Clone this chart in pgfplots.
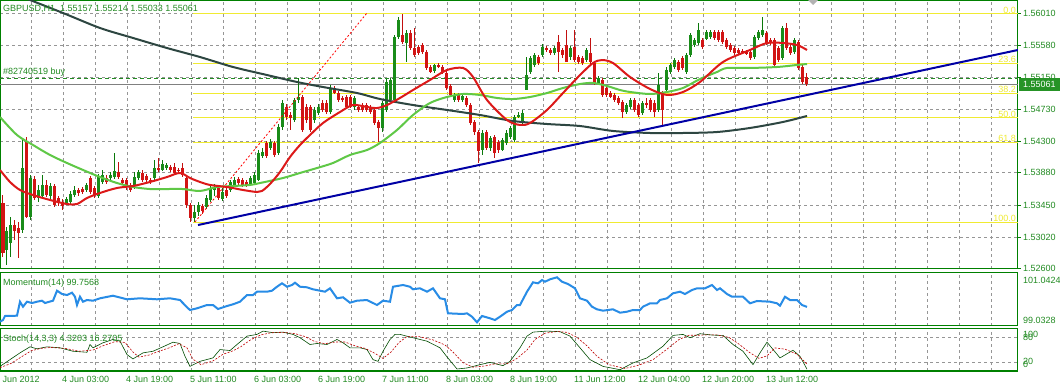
\documentclass[border=0pt]{standalone}
\usepackage{fontspec}
\setmainfont{Liberation Sans}
\usepackage{pgfplots}
\usepackage{pgfplotstable}
\pgfplotsset{compat=1.18}
\definecolor{mtgreen}{RGB}{0,128,0}
\definecolor{mttext}{RGB}{34,139,34}
\definecolor{bullbody}{RGB}{25,140,25}
\definecolor{bullwick}{RGB}{10,120,10}
\definecolor{bearbody}{RGB}{210,20,20}
\definecolor{bearwick}{RGB}{195,15,15}
\definecolor{redma}{RGB}{220,25,25}
\definecolor{greenma}{RGB}{95,200,70}
\definecolor{darkma}{RGB}{45,70,65}
\definecolor{trendblue}{RGB}{0,0,165}
\definecolor{fibyellow}{RGB}{240,235,50}
\definecolor{momblue}{RGB}{40,140,230}
\definecolor{gridgray}{RGB}{150,150,150}
\newcommand\fs{\fontsize{9}{10}\selectfont}

\pgfplotstableread{
i o h l c
0 1.53477 1.53583 1.52757 1.52810
1 1.52850 1.53157 1.52650 1.53103
2 1.52943 1.53290 1.52757 1.53183
3 1.53183 1.53250 1.52983 1.53103
4 1.53143 1.53223 1.52743 1.53077
5 1.53117 1.54330 1.53077 1.53943
6 1.54303 1.54357 1.53277 1.53290
7 1.53290 1.53850 1.53250 1.53810
8 1.53797 1.53837 1.53517 1.53543
9 1.53543 1.53717 1.53490 1.53650
10 1.53570 1.53850 1.53543 1.53717
11 1.53717 1.53783 1.53557 1.53583
12 1.53570 1.53743 1.53517 1.53703
13 1.53703 1.53730 1.53423 1.53450
14 1.53543 1.53570 1.53437 1.53477
15 1.53490 1.53530 1.53383 1.53437
16 1.53477 1.53557 1.53450 1.53530
17 1.53490 1.53637 1.53463 1.53597
18 1.53583 1.53703 1.53557 1.53650
19 1.53650 1.53677 1.53570 1.53610
20 1.53663 1.53690 1.53597 1.53623
21 1.53650 1.53743 1.53623 1.53717
22 1.53810 1.53837 1.53597 1.53623
23 1.53677 1.53703 1.53543 1.53583
24 1.53570 1.53863 1.53543 1.53837
25 1.53757 1.53917 1.53730 1.53850
26 1.53810 1.53850 1.53730 1.53757
27 1.53810 1.53890 1.53783 1.53850
28 1.53823 1.54143 1.53797 1.53903
29 1.53890 1.54023 1.53797 1.53823
30 1.53783 1.53810 1.53717 1.53743
31 1.53783 1.53810 1.53650 1.53703
32 1.53717 1.53743 1.53623 1.53650
33 1.53703 1.53890 1.53663 1.53823
34 1.53810 1.53917 1.53783 1.53890
35 1.53877 1.53917 1.53757 1.53783
36 1.53837 1.53863 1.53757 1.53783
37 1.53783 1.53810 1.53730 1.53757
38 1.53810 1.54050 1.53770 1.53943
39 1.53943 1.54077 1.53890 1.53917
40 1.53917 1.54050 1.53903 1.53997
41 1.53943 1.54010 1.53917 1.53983
42 1.53957 1.53983 1.53890 1.53917
43 1.53957 1.54010 1.53850 1.53877
44 1.53917 1.53943 1.53877 1.53903
45 1.53943 1.54010 1.53823 1.53850
46 1.53810 1.53850 1.53410 1.53450
47 1.53450 1.53477 1.53223 1.53277
48 1.53277 1.53450 1.53223 1.53357
49 1.53357 1.53490 1.53303 1.53450
50 1.53437 1.53463 1.53330 1.53370
51 1.53423 1.53583 1.53397 1.53543
52 1.53517 1.53717 1.53490 1.53677
53 1.53650 1.53730 1.53570 1.53690
54 1.53677 1.53703 1.53517 1.53543
55 1.53530 1.53677 1.53503 1.53623
56 1.53650 1.53677 1.53543 1.53570
57 1.53650 1.53783 1.53623 1.53757
58 1.53717 1.53823 1.53690 1.53783
59 1.53797 1.53823 1.53717 1.53743
60 1.53783 1.53810 1.53690 1.53717
61 1.53757 1.53783 1.53690 1.53717
62 1.53730 1.53837 1.53703 1.53810
63 1.53743 1.53890 1.53717 1.53850
64 1.53783 1.54183 1.53770 1.54143
65 1.54103 1.54210 1.54077 1.54157
66 1.54277 1.54303 1.54077 1.54103
67 1.54210 1.54330 1.54183 1.54290
68 1.54277 1.54303 1.54090 1.54117
69 1.54143 1.54530 1.54117 1.54490
70 1.54490 1.54850 1.54450 1.54810
71 1.54757 1.54797 1.54583 1.54623
72 1.54650 1.54690 1.54450 1.54610
73 1.54583 1.54877 1.54557 1.54850
74 1.54850 1.55143 1.54810 1.54890
75 1.54890 1.54917 1.54423 1.54450
76 1.54757 1.54797 1.54543 1.54583
77 1.54757 1.54783 1.54423 1.54450
78 1.54583 1.54757 1.54543 1.54717
79 1.54677 1.54797 1.54650 1.54757
80 1.54810 1.54850 1.54690 1.54717
81 1.54810 1.54850 1.54663 1.54690
82 1.54690 1.55050 1.54663 1.55010
83 1.55010 1.55037 1.54930 1.54943
84 1.54943 1.54970 1.54823 1.54850
85 1.54877 1.54903 1.54823 1.54850
86 1.54890 1.54917 1.54730 1.54757
87 1.54890 1.54917 1.54743 1.54757
88 1.54757 1.54903 1.54717 1.54877
89 1.54757 1.54783 1.54690 1.54717
90 1.54783 1.54810 1.54690 1.54717
91 1.54783 1.54810 1.54690 1.54717
92 1.54757 1.54783 1.54663 1.54690
93 1.54717 1.54743 1.54517 1.54543
94 1.54557 1.54583 1.54290 1.54477
95 1.54477 1.54837 1.54423 1.54810
96 1.54717 1.55130 1.54690 1.55090
97 1.54850 1.55143 1.54823 1.55117
98 1.54850 1.55717 1.54823 1.55690
99 1.55690 1.55957 1.55663 1.55917
100 1.55717 1.55997 1.55597 1.55623
101 1.55610 1.55783 1.55357 1.55743
102 1.55743 1.55783 1.55517 1.55543
103 1.55543 1.55810 1.55423 1.55450
104 1.55557 1.55583 1.55450 1.55477
105 1.55583 1.55610 1.55463 1.55490
106 1.55490 1.55517 1.55250 1.55277
107 1.55290 1.55317 1.55210 1.55223
108 1.55237 1.55330 1.55210 1.55317
109 1.55317 1.55343 1.55277 1.55290
110 1.55290 1.55317 1.55197 1.55223
111 1.55210 1.55237 1.54983 1.55010
112 1.55037 1.55063 1.54890 1.54917
113 1.54850 1.54943 1.54823 1.54917
114 1.54917 1.54943 1.54823 1.54850
115 1.54850 1.54930 1.54823 1.54903
116 1.54877 1.54903 1.54757 1.54783
117 1.54783 1.54810 1.54517 1.54543
118 1.54557 1.54583 1.54383 1.54423
119 1.54423 1.54450 1.54010 1.54170
120 1.54183 1.54450 1.54117 1.54410
121 1.54423 1.54450 1.54183 1.54210
122 1.54210 1.54370 1.54170 1.54343
123 1.54357 1.54383 1.54077 1.54143
124 1.54290 1.54317 1.54143 1.54183
125 1.54183 1.54343 1.54170 1.54317
126 1.54277 1.54450 1.54250 1.54410
127 1.54357 1.54503 1.54330 1.54477
128 1.54317 1.54650 1.54290 1.54623
129 1.54637 1.54690 1.54610 1.54650
130 1.54557 1.54717 1.54530 1.54677
131 1.54983 1.55423 1.54983 1.55183
132 1.55223 1.55437 1.55197 1.55410
133 1.55317 1.55477 1.55290 1.55450
134 1.55423 1.55450 1.55317 1.55343
135 1.55450 1.55597 1.55423 1.55557
136 1.55543 1.55570 1.55490 1.55517
137 1.55517 1.55543 1.55450 1.55477
138 1.55477 1.55570 1.55450 1.55543
139 1.55623 1.55717 1.55223 1.55490
140 1.55517 1.55543 1.55410 1.55450
141 1.55583 1.55783 1.55357 1.55357
142 1.55423 1.55570 1.55383 1.55543
143 1.55557 1.55783 1.55357 1.55383
144 1.55423 1.55450 1.55330 1.55357
145 1.55410 1.55437 1.55317 1.55343
146 1.55383 1.55543 1.55357 1.55517
147 1.55477 1.55677 1.55330 1.55357
148 1.55343 1.55370 1.55050 1.55077
149 1.55077 1.55170 1.55050 1.55143
150 1.55117 1.55143 1.54890 1.54917
151 1.55010 1.55037 1.54890 1.54917
152 1.54943 1.54970 1.54877 1.54890
153 1.54917 1.54943 1.54823 1.54850
154 1.54877 1.54903 1.54783 1.54810
155 1.54823 1.54850 1.54610 1.54690
156 1.54690 1.54810 1.54663 1.54783
157 1.54757 1.54877 1.54730 1.54850
158 1.54850 1.54877 1.54690 1.54717
159 1.54783 1.54810 1.54623 1.54650
160 1.54677 1.54837 1.54650 1.54810
161 1.54810 1.54877 1.54743 1.54783
162 1.54850 1.54877 1.54690 1.54717
163 1.54810 1.54850 1.54623 1.54690
164 1.54717 1.55210 1.54690 1.55050
165 1.54943 1.54970 1.54517 1.54717
166 1.54983 1.55290 1.54957 1.55250
167 1.55223 1.55343 1.55197 1.55317
168 1.55290 1.55410 1.55263 1.55383
169 1.55357 1.55383 1.55223 1.55250
170 1.55410 1.55437 1.55250 1.55277
171 1.55223 1.55477 1.55197 1.55450
172 1.55450 1.55743 1.55423 1.55717
173 1.55583 1.55677 1.55557 1.55650
174 1.55610 1.55877 1.55583 1.55783
175 1.55650 1.55677 1.55530 1.55557
176 1.55663 1.55783 1.55650 1.55757
177 1.55690 1.55783 1.55663 1.55757
178 1.55757 1.55783 1.55650 1.55677
179 1.55757 1.55783 1.55623 1.55650
180 1.55757 1.55783 1.55597 1.55623
181 1.55650 1.55677 1.55530 1.55557
182 1.55583 1.55610 1.55490 1.55517
183 1.55543 1.55570 1.55450 1.55477
184 1.55517 1.55543 1.55450 1.55477
185 1.55503 1.55530 1.55463 1.55490
186 1.55490 1.55517 1.55450 1.55477
187 1.55490 1.55517 1.55383 1.55410
188 1.55423 1.55717 1.55397 1.55690
189 1.55677 1.55783 1.55650 1.55757
190 1.55717 1.55957 1.55690 1.55783
191 1.55743 1.55770 1.55583 1.55610
192 1.55650 1.55677 1.55583 1.55610
193 1.55650 1.55677 1.55290 1.55317
194 1.55543 1.55570 1.55357 1.55383
195 1.55410 1.55837 1.55383 1.55810
196 1.55810 1.55877 1.55517 1.55543
197 1.55557 1.55583 1.55450 1.55477
198 1.55490 1.55677 1.55463 1.55650
199 1.55623 1.55650 1.55250 1.55277
200 1.55290 1.55317 1.55063 1.55090
201 1.55157 1.55214 1.55033 1.55061
}\candles

\pgfplotsset{
 mt4/.style={
  scale only axis, width=1018pt,
  xmin=-0.75, xmax=253.75,
  axis line style={draw=mtgreen, line width=1pt},
  xtick={7,15,...,247}, xticklabel={\relax}, xtick style={draw=none},
  xmajorgrids,
  grid style={draw=gridgray, dash pattern=on 3pt off 3pt, line width=0.7pt},
  tick label style={font=\fs, text=mttext},
 },
 wick/.style={only marks, mark=*, mark size=0pt, mark options={draw=none, fill=none},
  error bars/y dir=both, error bars/y explicit, error bars/error mark=none,
  error bars/error bar style={line width=1pt, #1}},
 body/.style={only marks, mark=*, mark size=0pt, mark options={draw=none, fill=none},
  error bars/y dir=both, error bars/y explicit, error bars/error mark=none,
  error bars/error bar style={line width=3pt, #1}},
}

\begin{document}
\begin{tikzpicture}
\useasboundingbox (0,0) rectangle (1060pt,-387pt);
\fill[white] (0,0) rectangle (1060pt,-387pt);

% ---------------- main price panel ----------------
\begin{axis}[mt4, at={(0pt,-1pt)}, anchor=north west, height=268pt,
  ymin=1.525967, ymax=1.561700,
  ytick={1.5601,1.5558,1.5515,1.5473,1.5430,1.5388,1.5345,1.5302,1.5260},
  yticklabels={1.56010,1.55580,1.55150,1.54730,1.54300,1.53880,1.53450,1.53020,1.52600},
  ytick pos=right, yticklabel pos=right, ymajorgrids,
  ytick style={draw=mtgreen, line width=0.8pt}, tick align=outside, major tick length=3pt,
  yticklabel style={anchor=west, inner sep=1pt, xshift=1pt},
]
% Fibonacci levels
\addplot[fibyellow, line width=1pt] coordinates {(47.5,1.55997) (253.75,1.55997)};
\addplot[fibyellow, line width=1pt] coordinates {(47.5,1.55342) (253.75,1.55342)};
\addplot[fibyellow, line width=1pt] coordinates {(47.5,1.54937) (253.75,1.54937)};
\addplot[fibyellow, line width=1pt] coordinates {(47.5,1.54610) (253.75,1.54610)};
\addplot[fibyellow, line width=1pt] coordinates {(47.5,1.54283) (253.75,1.54283)};
\addplot[fibyellow, line width=1pt] coordinates {(47.5,1.53223) (253.75,1.53223)};
\node[anchor=south east, inner sep=0.5pt, text=fibyellow, font=\fs] at (axis cs:253.4,1.55997) {0.0};
\node[anchor=south east, inner sep=0.5pt, text=fibyellow, font=\fs] at (axis cs:253.4,1.55342) {23.6};
\node[anchor=south east, inner sep=0.5pt, text=fibyellow, font=\fs] at (axis cs:253.4,1.54937) {38.2};
\node[anchor=south east, inner sep=0.5pt, text=fibyellow, font=\fs] at (axis cs:253.4,1.54610) {50.0};
\node[anchor=south east, inner sep=0.5pt, text=fibyellow, font=\fs] at (axis cs:253.4,1.54283) {61.8};
\node[anchor=south east, inner sep=0.5pt, text=fibyellow, font=\fs] at (axis cs:253.4,1.53223) {100.0};
% bid line and order line
\addplot[gray, line width=0.8pt] coordinates {(-0.75,1.55061) (253.75,1.55061)};
\addplot[mttext, dash pattern=on 4pt off 3pt, line width=1pt] coordinates {(-0.75,1.55143) (253.75,1.55143)};
% candles: wicks
\addplot[restrict expr to domain={\thisrow{c}-\thisrow{o}}{-1:0}, wick=bearwick]
  table[x=i, y expr={(\thisrow{h}+\thisrow{l})/2}, y error expr={(\thisrow{h}-\thisrow{l})/2}] {\candles};
\addplot[restrict expr to domain={\thisrow{c}-\thisrow{o}}{0:1}, wick=bullwick]
  table[x=i, y expr={(\thisrow{h}+\thisrow{l})/2}, y error expr={(\thisrow{h}-\thisrow{l})/2}] {\candles};
% candles: bodies
\addplot[restrict expr to domain={\thisrow{c}-\thisrow{o}}{-1:0}, body=bearbody]
  table[x=i, y expr={(\thisrow{o}+\thisrow{c})/2}, y error expr={max(abs(\thisrow{c}-\thisrow{o})/2,0.00004)}] {\candles};
\addplot[restrict expr to domain={\thisrow{c}-\thisrow{o}}{0:1}, body=bullbody]
  table[x=i, y expr={(\thisrow{o}+\thisrow{c})/2}, y error expr={max(abs(\thisrow{c}-\thisrow{o})/2,0.00004)}] {\candles};
% slow MA
\addplot[darkma, line width=2pt, smooth] coordinates {
(5,1.56220) (15,1.56010) (24.25,1.55810) (32.5,1.55677) (41,1.55543) (49.25,1.55423)
(57.5,1.55290) (66,1.55183) (73.5,1.55090) (80,1.55023) (88.5,1.54943) (94.25,1.54863)
(102.5,1.54783) (111,1.54717) (119.25,1.54650) (127.5,1.54570) (136,1.54530) (144.25,1.54503)
(152.5,1.54437) (161.75,1.54410) (170,1.54410) (178.5,1.54423) (186.75,1.54477) (195,1.54557) (201,1.54637)};
% medium MA
\addplot[greenma, line width=2pt, smooth] coordinates {
(-0.75,1.54623) (3.5,1.54383) (7.5,1.54250) (11.75,1.54117) (16,1.54010) (20,1.53917)
(24.25,1.53823) (28.5,1.53743) (32.5,1.53690) (36.75,1.53663) (41,1.53663) (45,1.53663)
(49.25,1.53637) (53.5,1.53690) (57.5,1.53703) (61.75,1.53717) (64.25,1.53743) (70,1.53810)
(74.25,1.53877) (78.5,1.53943) (82.5,1.54010) (86.75,1.54117) (91,1.54183) (94.25,1.54277)
(98.5,1.54450) (102.5,1.54650) (106.75,1.54810) (111,1.54890) (115,1.54930) (119.25,1.54917)
(123.5,1.54877) (127.5,1.54863) (131.75,1.54890) (136,1.54943) (140,1.55010) (144.25,1.55063)
(147.5,1.55077) (151,1.55037) (154.25,1.54983) (156.75,1.54957) (161.75,1.54930) (166,1.54957)
(170,1.55010) (174.25,1.55130) (178.5,1.55223) (181,1.55277) (186.75,1.55277) (193.5,1.55290)
(198.5,1.55317) (201,1.55330)};
% fast MA
\addplot[redma, line width=2pt, smooth] coordinates {
(-0.75,1.53917) (1.75,1.53757) (4.25,1.53650) (7.5,1.53583) (11.75,1.53517) (16,1.53463)
(18.5,1.53463) (21,1.53543) (24.25,1.53610) (28.5,1.53677) (32.5,1.53703) (36.75,1.53757)
(41,1.53823) (44.25,1.53877) (46.75,1.53810) (49.25,1.53757) (51.75,1.53717) (56,1.53690)
(60,1.53650) (63.5,1.53623) (64.75,1.53637) (66.75,1.53730) (69.25,1.53890) (71.75,1.54090)
(74.25,1.54250) (76.75,1.54383) (80,1.54543) (84.25,1.54690) (87.5,1.54783) (91,1.54757)
(93.5,1.54743) (96,1.54783) (99.25,1.54877) (102.5,1.54983) (106.75,1.55117) (111,1.55250)
(115,1.55277) (117.5,1.55157) (121,1.54850) (126,1.54583) (129.25,1.54517) (131.75,1.54543)
(136,1.54717) (140,1.54943) (144.25,1.55183) (147.5,1.55343) (149.75,1.55383) (152.5,1.55343)
(156.75,1.55157) (161.75,1.54997) (166,1.54917) (170,1.54957) (174.25,1.55090) (180,1.55357)
(186.75,1.55517) (191,1.55610) (195,1.55610) (198.5,1.55583) (201,1.55517)};
% trend line and fibo diagonal
\addplot[trendblue, line width=2pt] coordinates {(48.75,1.53183) (253.75,1.55517)};
\addplot[red, dash pattern=on 2pt off 2pt, line width=0.8pt] coordinates {(48,1.53223) (91,1.56010)};
\end{axis}

% ---------------- momentum panel ----------------
\begin{axis}[mt4, at={(0pt,-273pt)}, anchor=north west, height=53pt,
  ymin=99.0328, ymax=101.0424, ytick=\empty]
\addplot[momblue, line width=2pt] coordinates {
(-0.75,99.196) (0,99.260) (0.5,99.412) (3.5,99.423) (4.25,99.954) (5,99.764) (6,99.954) (7.25,99.905)
(8.5,99.954) (9.75,99.992) (10.5,99.905) (12.5,99.992) (13.5,100.371) (14.75,100.246) (16,100.208)
(17.25,100.295) (18,100.143) (18.5,99.829) (19.25,100.143) (20,99.954) (21,100.018) (22.5,99.992)
(24.25,100.083) (27.5,100.181) (31,100.045) (34.25,100.083) (38.5,100.045) (41.75,100.083)
(44.25,100.018) (46,99.742) (46.75,99.639) (48.5,99.704) (51,99.829) (52.5,99.829) (53.75,99.677)
(56,99.791) (57.5,99.855) (59.25,99.954) (61,100.208) (62.5,100.208) (63.5,100.333) (66,100.333)
(67.25,100.371) (68.5,100.522) (69.75,100.651) (71,100.522) (72.25,100.587) (73,100.674)
(74.25,100.522) (76,100.500) (77.5,100.424) (79.25,100.371) (80.5,100.333) (81.75,100.462)
(83.5,100.083) (85,100.121) (86.75,99.916) (88.5,99.992) (91,100.018) (93.5,99.829) (95,99.992)
(96.75,99.954) (97.5,100.522) (100,100.587) (101.75,100.522) (102.5,100.424) (104.25,100.462)
(106,100.333) (107.5,100.462) (109.25,100.083) (110.5,100.045) (111.25,99.514) (115,99.488)
(116,99.514) (117.25,99.385) (118.5,99.173) (119.75,99.412) (121.75,99.325) (123,99.260)
(124.25,99.385) (126,99.575) (127.25,99.639) (128.5,99.829) (129.25,99.829) (131,100.333)
(132.5,100.689) (133.75,100.651) (134.75,100.776) (135.5,100.712) (136.75,100.803) (138.5,100.879)
(139.75,100.712) (141.25,100.625) (143,100.462) (144.25,100.083) (146,99.992) (147.25,99.764)
(148.5,99.666) (150,99.613) (152.5,99.666) (154.25,99.537) (156,99.575) (157.5,99.639)
(159.25,99.639) (160,99.764) (161.75,99.893) (163.5,99.893) (164.25,100.018) (166,100.083)
(167.5,100.272) (169.25,100.333) (170.5,100.246) (172.25,100.397) (173.5,100.462) (175.5,100.462)
(177.25,100.587) (178.5,100.397) (179.25,100.462) (181,100.246) (182.25,100.143) (185,100.143)
(186.75,99.893) (188.5,99.981) (191.75,99.954) (193.5,99.893) (194.25,99.802) (195.5,100.143)
(196.75,100.018) (198.5,100.018) (199.75,99.829) (201,99.757)};
\end{axis}

% ---------------- stochastic panel ----------------
\begin{axis}[mt4, at={(0pt,-329pt)}, anchor=north west, height=42pt,
  ymin=0, ymax=100, ytick={20,80}, yticklabel={\relax}, ytick style={draw=none}, ymajorgrids,
  xticklabels={{},4 Jun 03:00,{},4 Jun 19:00,{},5 Jun 11:00,{},6 Jun 03:00,{},6 Jun 19:00,{},7 Jun 11:00,{},8 Jun 03:00,{},8 Jun 19:00,{},11 Jun 12:00,{},12 Jun 04:00,{},12 Jun 20:00,{},13 Jun 12:00,{},{},{},{},{},{},{},{}},
  xticklabel style={anchor=north west, inner sep=0pt, xshift=-1pt, yshift=-5pt}]
\addplot[black!70!green, line width=0.6pt] coordinates {
(-0.75,11.0) (1.75,27.1) (4.25,43.2) (6.75,57.6) (8.5,52.8) (11,57.6) (14.25,55.2) (17.5,47.0)
(21,44.6) (21.75,63.1) (22.5,55.2) (25,67.2) (27.5,75.1) (29.25,71.0) (31,39.1) (32.5,28.8)
(35,43.2) (37.5,47.0) (40,57.6) (42.5,68.6) (44.25,65.5) (45.5,35.0) (46.75,11.0) (49.25,23.0)
(52.5,31.2) (54.25,51.1) (56.75,48.7) (58.5,63.1) (61,83.0) (63.5,87.1) (65,95.0) (67.5,91.2)
(70,92.6) (72.5,87.1) (74.25,79.2) (76.75,63.1) (78.5,65.5) (81,63.1) (83.5,75.1) (85,67.2)
(86.75,55.2) (89.25,55.2) (91,51.1) (92.5,27.1) (93.75,23.0) (95,47.0) (96.75,75.1) (98,87.1)
(99.25,87.1) (102.5,79.2) (106,71.0) (109.25,55.2) (111,33.6) (113.5,4.8) (116,7.2) (119.25,15.1)
(121.75,20.6) (125,12.7) (126.75,23.0) (129.25,55.2) (131,83.0) (132.5,92.6) (136,95.0)
(139.25,93.6) (141.75,83.0) (144.25,55.2) (146.75,27.1) (150,11.0) (154.25,3.1) (157.5,19.2)
(161,31.2) (165,59.0) (167.5,84.7) (170,87.1) (171.75,79.2) (174.25,88.8) (177.5,85.4) (180,84.7)
(182.5,63.1) (185,47.0) (187.5,15.1) (189.25,43.2) (191,68.6) (194.25,31.2) (197.5,49.4)
(199.25,35.0) (201,4.3)};
\addplot[red!75!black, dash pattern=on 2pt off 1.5pt, line width=0.6pt] coordinates {
(-0.75,8) (2,18) (4.5,33) (7,48) (9.5,54) (12,56) (15.5,54) (19,47) (22.5,50) (25,60) (28,70)
(30.5,68) (32.5,45) (34,33) (36.5,38) (39,47) (41.5,55) (44,65) (46,55) (47.5,28) (49.5,15)
(52.5,24) (55,40) (57.5,48) (59.5,58) (62,75) (64.5,86) (67,91) (70,92) (73,89) (75.5,82) (78,70)
(80.5,65) (83,69) (85.5,69) (88,60) (90.5,54) (93,42) (95,30) (97,45) (99,68) (101,82) (104,82)
(107.5,74) (110.5,62) (112.5,45) (115,20) (117.5,9) (120.5,12) (123,17) (126,17) (128.5,30)
(131,50) (133,75) (135.5,90) (138.5,94) (141,92) (143.5,80) (146,60) (148.5,35) (151.5,15)
(155.5,6) (159,14) (162.5,27) (166,52) (169,75) (171.5,85) (173.5,85) (176,86) (178.5,86)
(181.5,80) (184,64) (186.5,45) (189,30) (191,36) (193,55) (195.5,52) (198.5,40) (201,16.3)};
\end{axis}

% ---------------- texts ----------------
\begin{scope}[every node/.style={font=\fs, text=mttext, inner sep=0pt}]
\node[anchor=west] at (3pt,-8.5pt) {GBPUSD,H1\ \ 1.55157 1.55214 1.55033 1.55061};
\node[anchor=west] at (3pt,-72.5pt) {\#82740519 buy};
\node[anchor=west] at (3pt,-283pt) {Momentum(14) 99.7568};
\node[anchor=west] at (3pt,-339pt) {Stoch(14,3,3) 4.3203 16.2705};
\node[anchor=west] at (1023pt,-280pt) {101.0424};
\node[anchor=west] at (1023pt,-320pt) {99.0328};
\node[anchor=west] at (1023pt,-334.5pt) {100};
\node[anchor=west] at (1023pt,-337.5pt) {80};
\node[anchor=west] at (1023pt,-361pt) {20};
\node[anchor=west] at (1023pt,-364pt) {0};
\node[anchor=north west] at (-5pt,-376pt) {1 Jun 2012};
\end{scope}
\node[anchor=west, fill=mtgreen!85!white, text=white, font=\fs, inner xsep=4pt, inner ysep=0pt,
  minimum height=13pt] at (1019pt,-84.5pt) {1.55061};
\fill[gray!60] (808pt,0pt) -- (818pt,0pt) -- (813pt,-5pt) -- cycle;
\end{tikzpicture}
\end{document}
